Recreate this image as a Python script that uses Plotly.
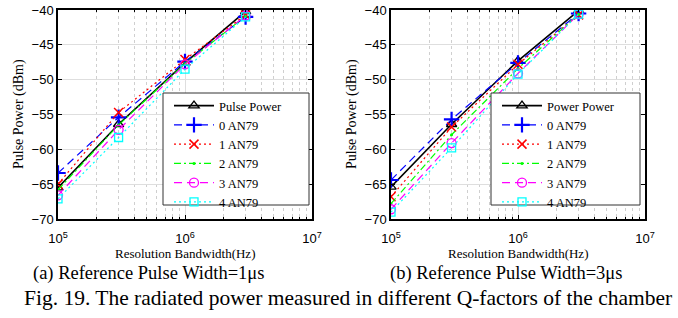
import plotly.graph_objects as go

# ---------------- data ----------------
rbw = [1e5, 3e5, 1e6, 3e6]

# (a) Reference pulse width = 1 us
a_ref = [-65.5, -56.4, -47.6, -40.2]
a_an0 = [-63.4, -55.4, -47.4, -41.0]
a_an1 = [-65.0, -54.7, -47.1, -40.7]
a_an2 = [-65.8, -56.5, -47.7, -40.9]
a_an3 = [-66.6, -57.2, -47.8, -40.8]
a_an4 = [-67.1, -58.3, -48.5, -41.0]

# (b) Reference pulse width = 3 us
b_ref = [-65.4, -56.4, -47.3, -40.1]
b_an0 = [-64.4, -55.7, -47.6, -40.5]
b_an1 = [-66.8, -56.8, -47.8, -40.7]
b_an2 = [-67.8, -57.9, -48.4, -40.6]
b_an3 = [-68.6, -59.1, -49.1, -40.6]
b_an4 = [-69.0, -59.8, -49.2, -40.6]

ref_names = ["Pulse Power", "Power Power"]
an_names = ["0 AN79", "1 AN79", "2 AN79", "3 AN79", "4 AN79"]

x_tickvals = [1e5, 1e6, 1e7]
x_ticktext = ["10<sup>5</sup>", "10<sup>6</sup>", "10<sup>7</sup>"]
x_minor = [m * 10 ** e for e in (5, 6) for m in range(2, 10)]
y_tickvals = [-70, -65, -60, -55, -50, -45, -40]

x_title = "Resolution Bandwidth(Hz)"
y_title = "Pulse Power (dBm)"
captions = ["(a) Reference Pulse Width=1\u03bcs", "(b) Reference Pulse Width=3\u03bcs"]
fig_caption = "Fig. 19. The radiated power measured in different Q-factors of the chamber"

# ---------------- styling ----------------
W, H = 678, 318
OFF = 0
SERIF = "Liberation Serif, Times New Roman, serif"
SANS = "Liberation Sans, Arial, sans-serif"

def px_x(p):
    return (p - OFF) / W

def px_y(p):
    return 1 - (p - OFF) / H

styles = [
    dict(line=dict(color="black", width=1.6, dash="solid"),
         marker=dict(symbol="triangle-up-open", size=9, color="black", line=dict(width=1.3, color="black"))),
    dict(line=dict(color="#0000FF", width=1.2, dash="8px,5px"),
         marker=dict(symbol="cross-thin-open", size=11, color="#0000FF", line=dict(width=2.2, color="#0000FF"))),
    dict(line=dict(color="#FF0000", width=1.2, dash="2px,3px"),
         marker=dict(symbol="x-thin-open", size=9, color="#FF0000", line=dict(width=1.5, color="#FF0000"))),
    dict(line=dict(color="#00FF00", width=1.2, dash="7px,3px,2px,3px"),
         marker=dict(symbol="circle", size=3, color="#00FF00", line=dict(width=0))),
    dict(line=dict(color="#FF00FF", width=1.2, dash="8px,5px"),
         marker=dict(symbol="circle-open", size=9, color="#FF00FF", line=dict(width=1.3, color="#FF00FF"))),
    dict(line=dict(color="#00FFFF", width=1.2, dash="2px,3px"),
         marker=dict(symbol="square-open", size=8, color="#00FFFF", line=dict(width=1.3, color="#00FFFF"))),
]

fig = go.Figure()

panels = [
    ([a_ref, a_an0, a_an1, a_an2, a_an3, a_an4], ref_names[0], "x", "y", "legend"),
    ([b_ref, b_an0, b_an1, b_an2, b_an3, b_an4], ref_names[1], "x2", "y2", "legend2"),
]

for series, rname, xa, ya, lg in panels:
    names = [rname] + an_names
    for vals, nm, st in zip(series, names, styles):
        fig.add_trace(go.Scatter(
            x=rbw, y=vals, name=nm, mode="lines+markers",
            line=st["line"], marker=st["marker"],
            xaxis=xa, yaxis=ya, legend=lg, showlegend=True,
        ))

# plot area pixel boxes (screen pixels)
boxes = [(58, 312), (391, 645)]
top_px, bot_px = 10, 219
legend_boxes = [(163, 309), (491, 640)]
leg_top, leg_bot = 93, 205

axis_common = dict(
    showline=True, linecolor="black", linewidth=1.5, mirror="allticks",
    ticks="inside", ticklen=4, tickcolor="black", tickwidth=1,
    showgrid=True, gridcolor="#dedede", gridwidth=1, automargin=False,
    zeroline=False, tickfont=dict(family=SANS, size=13, color="black"),
)

layout = dict(
    width=W, height=H,
    margin=dict(l=0, r=0, t=0, b=0, autoexpand=False),
    paper_bgcolor="white", plot_bgcolor="white",
    showlegend=True,
)

for i, (xl, xr) in enumerate(boxes):
    sfx = "" if i == 0 else str(i + 1)
    layout["xaxis" + sfx] = dict(
        type="log", range=[5, 7], domain=[px_x(xl), px_x(xr)],
        tickmode="array", tickvals=x_tickvals, ticktext=x_ticktext,
        anchor="y" + sfx, ticklabelstandoff=7,
        minor=dict(tickmode="array", tickvals=x_minor, ticks="inside", ticklen=2,
                   tickcolor="black", showgrid=True, gridcolor="#cfcfcf",
                   griddash="dot", gridwidth=1),
        **axis_common,
    )
    layout["yaxis" + sfx] = dict(
        range=[-70, -40], domain=[px_y(bot_px), px_y(top_px)],
        tickmode="array", tickvals=y_tickvals,
        anchor="x" + sfx,
        **axis_common,
    )

legend_common = dict(
    font=dict(family=SERIF, size=12.5, color="black"),
    bgcolor="rgba(0,0,0,0)", borderwidth=0,
    xanchor="left", yanchor="top", tracegroupgap=0,
    itemwidth=40, yref="paper", xref="paper",
)
layout["legend"] = dict(x=px_x(legend_boxes[0][0] + 6), y=px_y(leg_top - 2), **legend_common)
layout["legend2"] = dict(x=px_x(legend_boxes[1][0] + 6), y=px_y(leg_top - 2), **legend_common)

# legend frames (white box with thin dark border)
layout["shapes"] = [
    dict(type="rect", xref="paper", yref="paper",
         x0=px_x(l), x1=px_x(r), y0=px_y(leg_bot), y1=px_y(leg_top),
         fillcolor="white", line=dict(color="#333333", width=1), layer="above")
    for (l, r) in legend_boxes
]

fig.update_layout(**layout)

annos = []
for i, (xl, xr) in enumerate(boxes):
    cx = (xl + xr) / 2
    annos.append(dict(text=x_title, x=px_x(cx), y=px_y(253), xref="paper", yref="paper",
                      showarrow=False, xanchor="center", yanchor="middle",
                      font=dict(family=SERIF, size=13, color="black")))
    annos.append(dict(text=y_title, x=px_x(xl - 39), y=px_y(114), xref="paper", yref="paper",
                      showarrow=False, textangle=-90, xanchor="center", yanchor="middle",
                      font=dict(family=SERIF, size=14, color="black")))
annos.append(dict(text=captions[0], x=px_x(148), y=px_y(273), xref="paper", yref="paper",
                  showarrow=False, xanchor="center", yanchor="middle",
                  font=dict(family=SERIF, size=18.5, color="black")))
annos.append(dict(text=captions[1], x=px_x(506), y=px_y(273), xref="paper", yref="paper",
                  showarrow=False, xanchor="center", yanchor="middle",
                  font=dict(family=SERIF, size=18.5, color="black")))
annos.append(dict(text=fig_caption, x=px_x(348), y=px_y(298), xref="paper", yref="paper",
                  showarrow=False, xanchor="center", yanchor="middle",
                  font=dict(family=SERIF, size=21.5, color="black")))
fig.update_layout(annotations=annos)

# remove the default page margin so the 678x318 figure fills the window exactly
fig.write_html("out.html", config={"displayModeBar": False},
               post_script="document.body.style.margin='0px';")
